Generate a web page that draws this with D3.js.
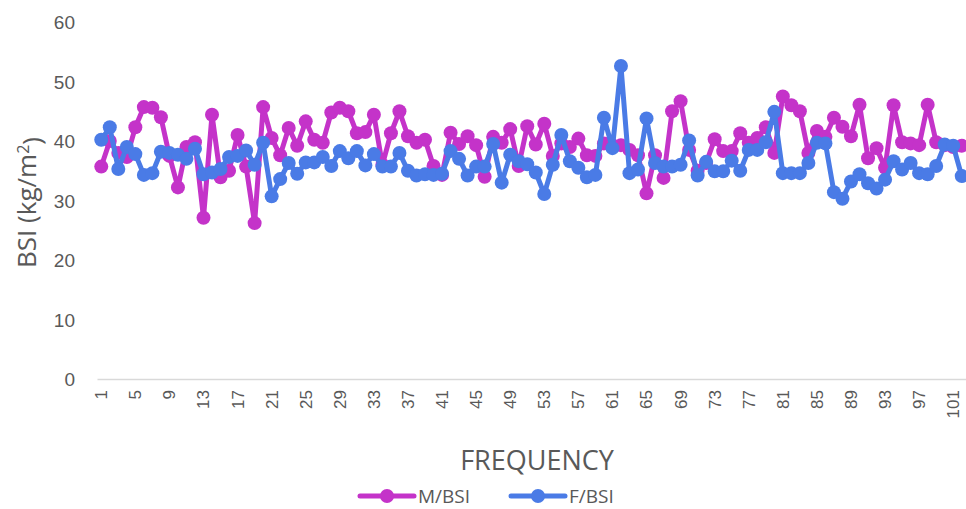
<!DOCTYPE html>
<html>
<head>
<meta charset="utf-8">
<script src="https://cdn.jsdelivr.net/npm/d3@7"></script>
<style>
  html, body { margin: 0; padding: 0; background: #fff; }
  svg { display: block; font-family: "Open Sans", "Liberation Sans", sans-serif; }
</style>
</head>
<body>
<svg id="chart" width="966" height="509"></svg>
<script>
// Body surface index readings per sample, male and female
const frequency = d3.range(1, 103);
const maleBSI = [
  35.7, 40.0, 38.0, 37.3, 42.3, 45.7, 45.6, 44.0, 37.5, 32.2,
  39.0, 39.8, 27.1, 44.4, 33.9, 35.0, 41.0, 35.7, 26.2, 45.7,
  40.5, 37.6, 42.2, 39.2, 43.3, 40.2, 39.7, 44.8, 45.6, 45.0,
  41.3, 41.5, 44.4, 36.0, 41.3, 45.0, 40.8, 39.7, 40.2, 35.8,
  34.3, 41.4, 39.5, 40.8, 39.3, 34.0, 40.7, 39.7, 42.0, 35.8,
  42.5, 39.4, 42.9, 37.5, 39.6, 39.0, 40.4, 37.6, 37.5, 39.6,
  39.3, 39.3, 38.5, 37.6, 31.2, 37.6, 33.8, 45.0, 46.7, 38.5,
  35.0, 36.3, 40.3, 38.3, 38.3, 41.3, 39.7, 40.5, 42.3, 38.0,
  47.5, 46.0, 45.0, 38.0, 41.7, 40.7, 43.9, 42.4, 40.8, 46.1,
  37.1, 38.8, 35.5, 46.0, 39.8, 39.6, 39.3, 46.1, 39.8, 39.3,
  39.0, 39.2
];
const femaleBSI = [
  40.2, 42.3, 35.3, 39.0, 37.8, 34.3, 34.6, 38.2, 38.0, 37.7,
  37.0, 38.7, 34.4, 34.7, 35.3, 37.3, 37.5, 38.4, 36.0, 39.7,
  30.7, 33.6, 36.3, 34.5, 36.4, 36.4, 37.3, 35.8, 38.3, 37.1,
  38.3, 35.9, 37.8, 35.7, 35.7, 38.0, 35.0, 34.2, 34.4, 34.3,
  34.5, 38.3, 37.0, 34.2, 35.7, 35.7, 39.5, 33.0, 37.7, 36.6,
  36.1, 34.7, 31.1, 36.0, 41.0, 36.6, 35.5, 33.9, 34.3, 43.9,
  38.8, 52.6, 34.6, 35.2, 43.8, 36.3, 35.7, 35.7, 36.0, 40.1,
  34.2, 36.5, 34.9, 34.9, 36.7, 35.0, 38.5, 38.5, 39.8, 44.9,
  34.6, 34.6, 34.6, 36.3, 39.7, 39.6, 31.4, 30.3, 33.2, 34.4,
  32.9, 32.0, 33.5, 36.6, 35.2, 36.3, 34.6, 34.4, 35.8, 39.4,
  39.2, 34.1
];
const yTicks = [0, 10, 20, 30, 40, 50, 60];
const xTickLabels = frequency.filter(d => (d - 1) % 4 === 0);

const series = [
  { name: "M/BSI", values: maleBSI, color: "#C433C9" },
  { name: "F/BSI", values: femaleBSI, color: "#4A7BE6" }
];

const svg = d3.select("#chart");
const plotLeft = 97, plotRight = 966, plotTop = 22, plotBottom = 379;
const textColor = "#595959";

const x = d3.scaleBand().domain(frequency).range([plotLeft, plotRight]).paddingInner(0).paddingOuter(0);
const y = d3.scaleLinear().domain([0, 60]).range([plotBottom, plotTop]);
const cx = d => x(d) + x.bandwidth() / 2;

// Value axis labels (no axis line)
const yAxis = svg.append("g")
  .attr("transform", `translate(75,0)`)
  .call(d3.axisLeft(y).tickValues(yTicks).tickSize(0).tickPadding(0));
yAxis.select(".domain").remove();
yAxis.selectAll("text")
  .attr("fill", textColor)
  .style("font-size", "19px")
  .attr("dy", "0.35em");

// Category axis
const xAxis = svg.append("g")
  .attr("transform", `translate(0,${plotBottom})`)
  .call(d3.axisBottom(x).tickValues(xTickLabels).tickSize(0).tickPadding(0));
xAxis.select(".domain").attr("stroke", "#D9D9D9").attr("stroke-width", 1.3);
xAxis.selectAll("text")
  .attr("fill", textColor)
  .style("font-size", "17px")
  .attr("text-anchor", "end")
  .attr("transform", "rotate(-90)")
  .attr("x", -11)
  .attr("y", 0)
  .attr("dy", "0.35em");

// Axis titles
const yTitle = svg.append("text")
  .attr("transform", `translate(36,${(plotTop + plotBottom) / 2 + 2}) rotate(-90)`)
  .attr("text-anchor", "middle")
  .attr("fill", textColor)
  .style("font-size", "26px");
yTitle.append("tspan").text("BSI (kg/m");
yTitle.append("tspan").attr("dy", "-0.45em").style("font-size", "16px").text("2");
yTitle.append("tspan").attr("dy", "0.45em").text(")");

svg.append("text")
  .attr("x", 537).attr("y", 470)
  .attr("text-anchor", "middle")
  .attr("fill", textColor)
  .style("font-size", "27px")
  .text("FREQUENCY");

// Lines and markers
const line = d3.line().x((d, i) => cx(frequency[i])).y(d => y(d));
series.forEach(s => {
  const g = svg.append("g");
  g.append("path")
    .datum(s.values)
    .attr("fill", "none")
    .attr("stroke", s.color)
    .attr("stroke-width", 5)
    .attr("stroke-linejoin", "round")
    .attr("d", line);
  g.selectAll("circle")
    .data(s.values)
    .join("circle")
    .attr("cx", (d, i) => cx(frequency[i]))
    .attr("cy", d => y(d))
    .attr("r", 7)
    .attr("fill", s.color);
});

// Legend
const legend = svg.append("g").attr("transform", "translate(0,496)");
const legendItems = [
  { s: series[0], x0: 360 },
  { s: series[1], x0: 511 }
];
legendItems.forEach(({ s, x0 }) => {
  legend.append("line")
    .attr("x1", x0).attr("x2", x0 + 54)
    .attr("y1", 0).attr("y2", 0)
    .attr("stroke", s.color).attr("stroke-width", 5).attr("stroke-linecap", "round");
  legend.append("circle").attr("cx", x0 + 27).attr("cy", 0).attr("r", 7).attr("fill", s.color);
  legend.append("text")
    .attr("x", x0 + 58).attr("y", 0).attr("dy", "0.35em")
    .attr("fill", textColor)
    .style("font-size", "19px")
    .text(s.name);
});
</script>
</body>
</html>
